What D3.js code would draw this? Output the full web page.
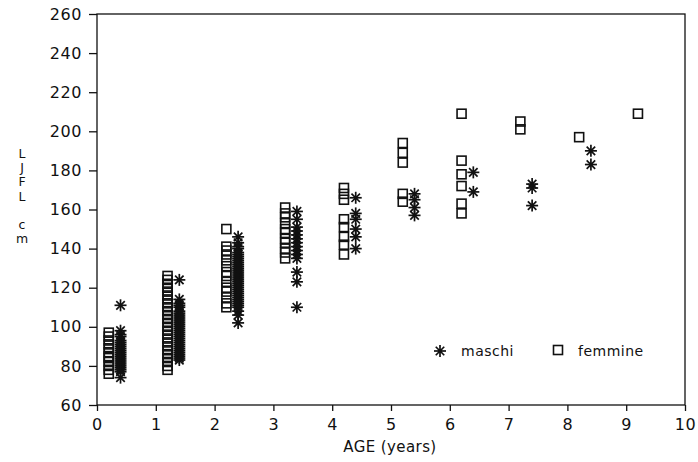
<!DOCTYPE html>
<html>
<head>
<meta charset="utf-8">
<script src="https://cdn.jsdelivr.net/npm/d3@7"></script>
<style>
  html, body { margin: 0; padding: 0; background: #fff; }
  svg { display: block; }
  text { font-family: "DejaVu Sans", sans-serif; fill: #111; }
</style>
</head>
<body>
<svg id="chart" width="698" height="462"></svg>
<script>
// Age classes (years)
const femaleAges = [0.2, 1.2, 2.2, 3.2, 4.2, 5.2, 6.2, 7.2, 8.2, 9.2];
const maleAges = [0.4, 1.4, 2.4, 3.4, 4.4, 5.4, 6.4, 7.4, 8.4];

// LJFL (cm) for each age class
const femaleLJFL = [
  [76, 78, 80, 82, 84, 85, 87, 89, 91, 93, 95, 97],
  [78, 80, 82, 84, 86, 88, 90, 92, 94, 96, 98, 100, 102, 104, 106, 108, 110, 112, 114, 116, 118, 120, 122, 124, 126],
  [150, 141, 139, 137, 134, 131, 128, 126, 123, 120, 118, 115, 112, 110],
  [161, 158, 156, 153, 150, 148, 145, 143, 140, 138, 135],
  [171, 168, 165, 155, 151, 146, 142, 137],
  [194, 189, 184, 168, 164],
  [209, 185, 178, 172, 163, 158],
  [205, 201],
  [197],
  [209]
];
const maleLJFL = [
  [111, 98, 96, 95, 93, 92, 91, 90, 89, 88, 87, 86, 85, 84, 83, 82, 81, 80, 79, 78, 77, 74],
  [124, 114, 112, 111, 110, 108, 107, 106, 105, 104, 103, 102, 101, 100, 99, 98, 97, 96, 95, 94, 93, 92, 91, 90, 89, 88, 87, 86, 85, 84, 83],
  [146, 143, 141, 140, 138, 137, 136, 135, 134, 133, 132, 131, 130, 129, 128, 127, 126, 125, 124, 123, 122, 121, 120, 119, 118, 117, 116, 115, 114, 113, 112, 111, 110, 108, 106, 102],
  [159, 155, 151, 149, 147, 145, 143, 141, 139, 137, 135, 128, 123, 110],
  [166, 158, 155, 150, 146, 140],
  [168, 165, 161, 157],
  [179, 169],
  [173, 171, 162],
  [190, 183]
];

const xTicks = [0, 1, 2, 3, 4, 5, 6, 7, 8, 9, 10];
const yTicks = [60, 80, 100, 120, 140, 160, 180, 200, 220, 240, 260];
const yLabelLetters = ["L", "J", "F", "L", "c", "m"];
const yLabelRows = [0, 1, 2, 3, 5, 6];
const legendItems = ["maschi", "femmine"];

const svg = d3.select("#chart");
const x = d3.scaleLinear().domain([0, 10]).range([97, 685]);
const y = d3.scaleLinear().domain([60, 260]).range([405, 14]);

const flatten = (ages, vals) => ages.flatMap((a, i) => vals[i].map(v => ({ age: a, v })));
const females = flatten(femaleAges, femaleLJFL);
const males = flatten(maleAges, maleLJFL);

// frame
svg.append("rect")
  .attr("x", x(0)).attr("y", y(260))
  .attr("width", x(10) - x(0)).attr("height", y(60) - y(260))
  .attr("fill", "none").attr("stroke", "#111").attr("stroke-width", 1.3);

// axes
const yAxis = svg.append("g").attr("transform", `translate(${x(0)},0)`)
  .call(d3.axisLeft(y).tickValues(yTicks).tickSize(8).tickPadding(5).tickFormat(d3.format("d")));
const xAxis = svg.append("g").attr("transform", `translate(0,${y(60)})`)
  .call(d3.axisBottom(x).tickValues(xTicks).tickSize(6).tickPadding(8).tickFormat(d3.format("d")));
[xAxis, yAxis].forEach(g => {
  g.select(".domain").remove();
  g.selectAll(".tick line").attr("stroke", "#111").attr("stroke-width", 1.3);
  g.selectAll(".tick text").attr("font-size", 16).attr("letter-spacing", 0.6)
    .attr("font-family", "DejaVu Sans, sans-serif").attr("fill", "#111");
});
yAxis.selectAll(".tick text").attr("dx", -2);

// axis titles
svg.append("text").attr("x", 390).attr("y", 452).attr("text-anchor", "middle")
  .attr("font-size", 15).attr("letter-spacing", 0.4).text("AGE  (years)");
svg.selectAll("text.ylab").data(yLabelLetters).join("text").attr("class", "ylab")
  .attr("x", 22).attr("y", (d, i) => 158 + yLabelRows[i] * 14.2)
  .attr("text-anchor", "middle").attr("font-size", 12.5).text(d => d);

// marker shapes
function asterisk(g, cx, cy, r) {
  const a = g.append("g").attr("transform", `translate(${cx},${cy})`);
  [0, 45, 90, 135].forEach(deg => {
    const t = deg * Math.PI / 180;
    a.append("line")
      .attr("x1", -r * Math.cos(t)).attr("y1", -r * Math.sin(t))
      .attr("x2", r * Math.cos(t)).attr("y2", r * Math.sin(t))
      .attr("stroke", "#111").attr("stroke-width", 1.7);
  });
  a.append("circle").attr("r", 2).attr("fill", "#111");
}
function square(g, cx, cy, s) {
  g.append("rect").attr("x", cx - s / 2).attr("y", cy - s / 2)
    .attr("width", s).attr("height", s)
    .attr("fill", "none").attr("stroke", "#111").attr("stroke-width", 1.6);
}

const pts = svg.append("g");
females.forEach(d => square(pts, x(d.age), y(d.v), 9));
males.forEach(d => asterisk(pts, x(d.age), y(d.v), 6));

// legend
const lg = svg.append("g");
asterisk(lg, 440, 351, 6);
lg.append("text").attr("x", 461).attr("y", 356).attr("font-size", 14).attr("letter-spacing", 0.5).text(legendItems[0]);
square(lg, 558, 350, 9);
lg.append("text").attr("x", 578).attr("y", 356).attr("font-size", 14).attr("letter-spacing", 0.5).text(legendItems[1]);
</script>
</body>
</html>
